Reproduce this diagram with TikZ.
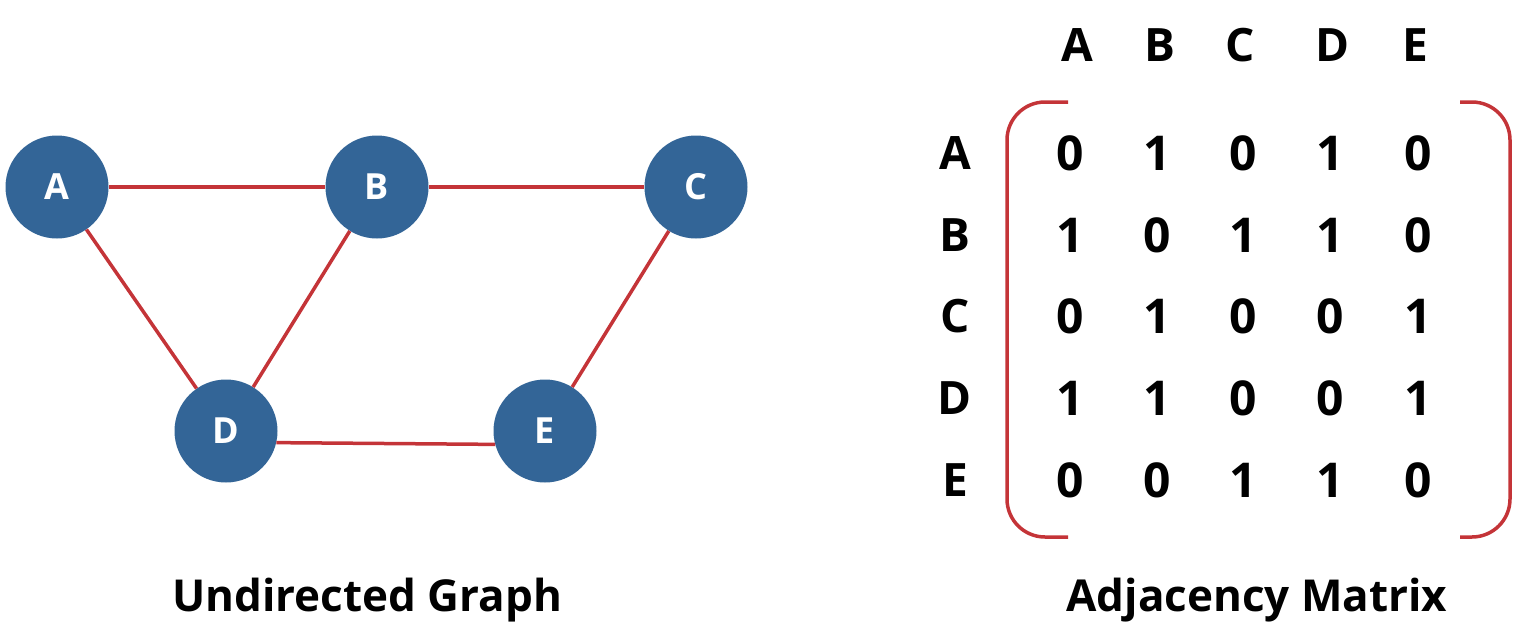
\documentclass[tikz,border=0pt]{standalone}
\usepackage{fontspec}
\setmainfont{Open Sans}
\definecolor{nodeblue}{RGB}{51,101,151}
\definecolor{edgered}{RGB}{196,52,56}
\begin{document}
\begin{tikzpicture}[x=1pt,y=-1pt,
  vert/.style={circle,fill=nodeblue,minimum size=103pt,inner sep=0pt,text=white,font=\fontsize{36}{36}\selectfont\bfseries},
  edge/.style={draw=edgered,line width=3.5pt},
  brack/.style={draw=edgered,line width=3.5pt},
  hdr/.style={font=\fontsize{46}{46}\selectfont\bfseries},
  ent/.style={font=\fontsize{48}{48}\selectfont\bfseries},
  captxt/.style={font=\fontsize{44}{44}\selectfont\bfseries}]
\useasboundingbox (0,0) rectangle (1516,638);
\node[vert] (A) at (57,187) {A};
\node[vert] (B) at (377,187) {B};
\node[vert] (C) at (696,187) {C};
\node[vert] (D) at (226,431) {D};
\node[vert] (E) at (545,431) {E};
\draw[edge] (A) -- (B);
\draw[edge] (B) -- (C);
\draw[edge] (A) -- (D);
\draw[edge] (B) -- (D);
\draw[edge] (C) -- (E);
\draw[edge] (D.-13) -- (E.195);
% column headers
\foreach \l/\x in {A/1077,B/1160,C/1240,D/1333,E/1415}
  \node[hdr] (h\l) at (\x,45) {\l};
\foreach \l/\y in {A/153,B/235,C/316,D/398,E/480}
  \node[hdr] (r\l) at (955,\y) {\l};
% entries
\foreach \row [count=\i] in {{0,1,0,1,0},{1,0,1,1,0},{0,1,0,0,1},{1,1,0,0,1},{0,0,1,1,0}}{
  \foreach \v [count=\j] in \row {
    \pgfmathsetmacro{\xx}{{1070,1157,1243,1330,1418}[\j-1]}
    \pgfmathsetmacro{\yy}{{153,235,316,398,480}[\i-1]}
    \node[ent] (m\i\j) at (\xx,\yy) {\v};
  }
}
% brackets
\coordinate (lt) at (1068,102);
\coordinate (lb) at (1068,537);
\coordinate (rt) at (1460,102);
\coordinate (rb) at (1460,537);
\draw[brack,rounded corners=38pt] (lt) -- (1007,102) -- (1007,537) -- (lb);
\draw[brack,rounded corners=38pt] (rt) -- (1510,102) -- (1510,537) -- (rb);
\node[captxt] (g) at (367,600) {Undirected Graph};
\node[captxt] (m) at (1257,600) {Adjacency Matrix};
\end{tikzpicture}
\end{document}
